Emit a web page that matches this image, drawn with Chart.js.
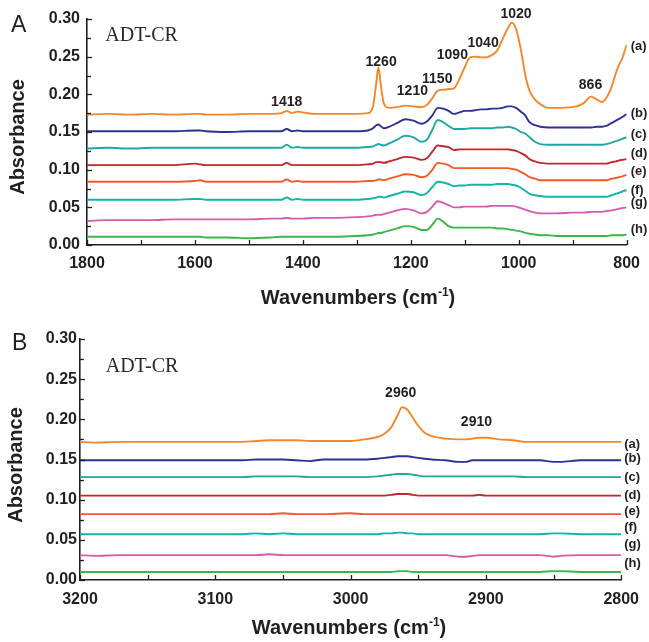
<!DOCTYPE html>
<html>
<head>
<meta charset="utf-8">
<script src="https://cdn.jsdelivr.net/npm/chart.js@4.4.1/dist/chart.umd.min.js"></script>
<style>
  html, body { margin: 0; padding: 0; background: #fff; }
  #wrap { position: relative; width: 649px; height: 642px; overflow: hidden; }
  #cA { position: absolute; left: 0; top: 0; }
  #cB { position: absolute; left: 0; top: 320px; }
</style>
</head>
<body>
<div id="wrap">
  <canvas id="cA" width="649" height="320"></canvas>
  <canvas id="cB" width="649" height="322"></canvas>
</div>
<script>
// ---------- DATA: panel A (1800-800 cm-1) ----------
const wnA = [1800,1760,1720,1680,1640,1600,1590,1580,1540,1500,
             1460,1440,1430,1420,1410,1400,1380,1340,1300,1280,
             1270,1264,1260,1256,1250,1240,1225,1210,1195,1180,
             1170,1160,1150,1140,1130,1120,1110,1100,1090,1080,
             1070,1060,1050,1040,1030,1020,1013,1005,996,988,
             980,970,960,945,930,900,880,866,855,846,
             838,828,820,815,808,800];
const A_a = [.173,.174,.173,.174,.173,.174,.174,.173,.173,.174,
             .174,.175,.178,.175,.177,.176,.174,.174,.174,.175,
             .184,.215,.236,.215,.188,.182,.183,.185,.184,.183,
             .186,.195,.205,.206,.207,.208,.220,.236,.249,.250,
             .249,.249,.252,.258,.273,.288,.295,.287,.259,.226,
             .205,.193,.187,.182,.182,.183,.188,.197,.193,.190,
             .195,.210,.228,.238,.248,.266];
const A_b = [.151,.151,.151,.151,.151,.152,.152,.151,.150,.151,
             .151,.151,.154,.151,.152,.151,.151,.151,.151,.152,
             .155,.159,.160,.158,.155,.157,.162,.167,.165,.161,
             .164,.172,.182,.181,.178,.174,.176,.178,.178,.179,
             .180,.180,.181,.181,.182,.184,.184,.182,.177,.172,
             .163,.159,.157,.156,.156,.156,.156,.156,.157,.157,
             .158,.162,.165,.167,.170,.174];
const A_c = [.128,.129,.128,.129,.129,.129,.129,.129,.129,.129,
             .129,.129,.133,.129,.130,.129,.129,.129,.129,.130,
             .131,.133,.134,.133,.132,.135,.140,.145,.143,.137,
             .140,.153,.166,.163,.158,.154,.154,.154,.155,.155,
             .155,.155,.155,.156,.156,.157,.156,.154,.150,.148,
             .143,.137,.134,.133,.133,.133,.133,.133,.133,.133,
             .134,.136,.138,.139,.141,.143];
const A_d = [.106,.106,.106,.106,.106,.108,.107,.106,.106,.106,
             .106,.106,.109,.106,.106,.106,.106,.106,.106,.107,
             .108,.110,.110,.110,.109,.111,.114,.117,.116,.113,
             .115,.124,.132,.131,.130,.126,.127,.127,.127,.127,
             .127,.127,.127,.127,.127,.127,.126,.125,.122,.119,
             .114,.111,.109,.108,.108,.108,.108,.108,.108,.108,
             .108,.110,.111,.112,.113,.114];
const A_e = [.084,.084,.084,.084,.084,.085,.086,.084,.084,.084,
             .084,.084,.087,.084,.085,.084,.084,.084,.084,.085,
             .085,.086,.087,.087,.086,.088,.091,.094,.093,.090,
             .092,.100,.109,.108,.106,.102,.102,.102,.102,.102,
             .102,.102,.102,.102,.102,.102,.101,.100,.097,.094,
             .090,.088,.086,.086,.086,.086,.086,.086,.086,.086,
             .086,.088,.089,.090,.091,.093];
const A_f = [.060,.060,.060,.060,.060,.061,.061,.060,.060,.060,
             .060,.060,.063,.060,.061,.060,.060,.060,.060,.061,
             .062,.063,.064,.064,.063,.065,.068,.071,.070,.066,
             .069,.077,.084,.083,.081,.078,.079,.079,.080,.080,
             .080,.080,.080,.081,.081,.081,.080,.079,.076,.072,
             .068,.066,.065,.064,.064,.064,.064,.064,.064,.064,
             .064,.066,.068,.069,.071,.073];
const A_g = [.032,.033,.033,.033,.034,.034,.034,.034,.034,.034,
             .035,.035,.036,.035,.035,.035,.036,.036,.037,.038,
             .039,.040,.040,.040,.041,.043,.046,.048,.046,.042,
             .044,.051,.058,.056,.053,.050,.050,.051,.051,.051,
             .051,.051,.052,.052,.052,.052,.052,.051,.049,.047,
             .045,.043,.042,.042,.042,.043,.043,.044,.044,.044,
             .045,.046,.047,.048,.049,.050];
const A_h = [.011,.011,.011,.011,.011,.011,.011,.010,.010,.009,
             .010,.011,.011,.011,.011,.011,.011,.011,.012,.013,
             .014,.015,.016,.016,.017,.019,.022,.025,.024,.020,
             .020,.027,.035,.031,.025,.023,.023,.023,.023,.023,
             .023,.023,.023,.022,.022,.021,.020,.019,.018,.016,
             .015,.014,.013,.013,.012,.012,.012,.012,.012,.012,
             .012,.013,.013,.013,.013,.014];

// ---------- DATA: panel B (3200-2800 cm-1) ----------
const wnB = [3200,3190,3170,3140,3110,3080,3070,3060,3050,3040,
             3030,3020,3000,2990,2980,2975,2970,2965,2962,2958,
             2954,2950,2945,2940,2930,2920,2915,2910,2905,2900,
             2890,2880,2870,2860,2850,2845,2830,2815,2800];
const B_a = [.172,.171,.172,.172,.172,.172,.173,.174,.174,.174,
             .173,.173,.173,.175,.178,.182,.190,.206,.215,.212,
             .202,.192,.183,.179,.176,.175,.175,.176,.177,.177,
             .175,.174,.172,.172,.172,.172,.172,.172,.172];
const B_b = [.149,.149,.149,.149,.149,.149,.150,.150,.150,.149,
             .148,.150,.150,.150,.151,.152,.153,.154,.154,.154,
             .153,.152,.151,.150,.149,.147,.147,.149,.149,.149,
             .149,.149,.149,.149,.147,.147,.149,.149,.149];
const B_c = [.128,.128,.128,.128,.128,.128,.129,.129,.129,.129,
             .128,.128,.128,.128,.129,.130,.131,.132,.132,.132,
             .131,.130,.129,.129,.129,.129,.129,.129,.129,.129,
             .129,.129,.128,.128,.128,.128,.128,.128,.128];
const B_d = [.105,.105,.105,.105,.105,.105,.105,.105,.105,.105,
             .105,.105,.105,.105,.105,.105,.106,.107,.107,.107,
             .106,.105,.105,.105,.105,.105,.105,.105,.106,.105,
             .105,.105,.105,.105,.105,.105,.105,.105,.105];
const B_e = [.082,.082,.082,.082,.082,.082,.082,.082,.083,.082,
             .082,.082,.083,.082,.082,.082,.082,.082,.082,.082,
             .082,.082,.082,.082,.082,.082,.082,.082,.082,.082,
             .082,.082,.082,.082,.082,.082,.082,.082,.082];
const B_f = [.057,.057,.057,.057,.057,.057,.058,.057,.058,.057,
             .057,.057,.057,.057,.057,.058,.058,.059,.059,.058,
             .058,.057,.057,.057,.057,.057,.057,.057,.057,.057,
             .057,.057,.057,.057,.058,.058,.057,.057,.057];
const B_g = [.031,.030,.031,.031,.031,.031,.031,.032,.031,.031,
             .031,.031,.031,.031,.031,.031,.031,.031,.031,.031,
             .031,.031,.031,.031,.031,.029,.029,.030,.031,.031,
             .031,.031,.031,.031,.029,.030,.031,.031,.031];
const B_h = [.010,.010,.010,.010,.010,.010,.010,.010,.010,.010,
             .010,.010,.010,.010,.010,.010,.010,.011,.011,.011,
             .010,.010,.010,.010,.010,.010,.010,.010,.010,.010,
             .010,.010,.010,.010,.011,.011,.010,.010,.010];

const seriesNames = ['(a)','(b)','(c)','(d)','(e)','(f)','(g)','(h)'];
const yTickLabels = ['0.00','0.05','0.10','0.15','0.20','0.25','0.30'];

// peak annotations [label, wavenumber, absorbance]
const peaksA = [['1418',1430,0.190],['1260',1255,0.243],['1210',1197,0.2045],['1150',1151,0.220],
                ['1090',1123,0.252],['1040',1066,0.268],['1020',1005,0.307],['866',867,0.2125]];
const peaksB = [['2960',2963,0.233],['2910',2907,0.1967]];
// series tag levels (absorbance where each (a)..(h) tag sits)
const tagYA = [0.264,0.174,0.147,0.121,0.098,0.072,0.057,0.021];
const tagYB = [0.169,0.151,0.128,0.105,0.085,0.065,0.044,0.021];

// ---------- STYLE ----------
const COLORS = ['#f7862a','#2e3192','#1fa8a3','#c1272d','#f15a2b','#12b3aa','#d35cac','#3cb54a'];
const AXIS = '#231f20';
const SANS = '"Liberation Sans", Arial, sans-serif';
const SERIF = '"Liberation Serif", "Times New Roman", serif';

function toPoints(xs, ys) { return xs.map((x, i) => ({x: x, y: ys[i]})); }

function makeDatasets(xs, list) {
  return list.map((ys, i) => ({
    label: seriesNames[i],
    data: toPoints(xs, ys),
    borderColor: COLORS[i],
    borderWidth: 1.9,
    pointRadius: 0,
    fill: false,
    tension: 0,
    cubicInterpolationMode: 'monotone'
  }));
}

function decorPlugin(cfg) {
  return {
    id: 'decor' + cfg.letter,
    afterDraw(chart) {
      const ctx = chart.ctx, xs = chart.scales.x, ys = chart.scales.y, ca = chart.chartArea;
      ctx.save();
      // inward tick marks
      ctx.strokeStyle = AXIS; ctx.lineWidth = 1.3;
      xs.ticks.forEach(t => {
        const px = Math.round(xs.getPixelForValue(t.value)) + 0.5;
        ctx.beginPath(); ctx.moveTo(px, ca.bottom); ctx.lineTo(px, ca.bottom - 5); ctx.stroke();
      });
      ys.ticks.forEach(t => {
        const py = Math.round(ys.getPixelForValue(t.value)) + 0.5;
        const major = Math.round(t.value * 1000) % 50 === 0;
        ctx.beginPath(); ctx.moveTo(ca.left, py); ctx.lineTo(ca.left + (major ? 5 : 4), py); ctx.stroke();
      });
      // peak labels
      ctx.fillStyle = '#231f20';
      ctx.font = 'bold 14px ' + SANS;
      ctx.textAlign = 'center'; ctx.textBaseline = 'middle';
      cfg.peaks.forEach(p => ctx.fillText(p[0], xs.getPixelForValue(p[1]), ys.getPixelForValue(p[2])));
      // series tags
      ctx.font = 'bold 13px ' + SANS;
      ctx.textAlign = 'left';
      cfg.tags.forEach((v, i) => ctx.fillText(seriesNames[i], ca.right + cfg.tagGap, ys.getPixelForValue(v)));
      // y-axis title
      ctx.save();
      ctx.translate(cfg.yTitle[0], cfg.yTitle[1]);
      ctx.rotate(-Math.PI / 2);
      ctx.font = 'bold 20px ' + SANS;
      ctx.textAlign = 'center';
      ctx.fillText('Absorbance', 0, 0);
      ctx.restore();
      // sample name
      ctx.font = '20px ' + SERIF;
      ctx.fillStyle = '#2b2b2b';
      ctx.textAlign = 'left';
      ctx.textBaseline = 'alphabetic';
      ctx.fillText('ADT-CR', xs.getPixelForValue(cfg.name[0]), ys.getPixelForValue(cfg.name[1]));
      // panel letter
      ctx.fillStyle = '#231f20';
      ctx.font = '23px ' + SANS;
      ctx.fillText(cfg.letter, cfg.letterPos[0], cfg.letterPos[1]);
      // x-axis title with superscript
      const main = 'Wavenumbers (cm', sup = '-1', close = ')';
      ctx.font = 'bold 20px ' + SANS;
      const w1 = ctx.measureText(main).width, w3 = ctx.measureText(close).width;
      ctx.font = 'bold 12px ' + SANS;
      const w2 = ctx.measureText(sup).width;
      const total = w1 + w2 + w3;
      const x0 = cfg.titleCx - total / 2;
      const by = ca.bottom + cfg.titleDy;
      ctx.font = 'bold 20px ' + SANS;
      ctx.fillText(main, x0, by);
      ctx.font = 'bold 12px ' + SANS;
      ctx.fillText(sup, x0 + w1, by - 8);
      ctx.font = 'bold 20px ' + SANS;
      ctx.fillText(close, x0 + w1 + w2, by);
      ctx.restore();
    }
  };
}

function makeChart(canvasId, opts) {
  return new Chart(document.getElementById(canvasId), {
    type: 'line',
    data: { datasets: makeDatasets(opts.xs, opts.series) },
    options: {
      responsive: false,
      animation: false,
      devicePixelRatio: 1,
      layout: { padding: { left: 0, top: 19, right: opts.padRight, bottom: 0 } },
      plugins: { legend: { display: false }, tooltip: { enabled: false } },
      scales: {
        x: {
          type: 'linear', reverse: true, min: opts.xMin, max: opts.xMax,
          grid: { display: true, drawOnChartArea: false, drawTicks: false },
          border: { display: true, color: AXIS, width: 1.6 },
          ticks: {
            stepSize: opts.xStep, autoSkip: false, maxRotation: 0, padding: opts.xPad,
            color: AXIS, font: { family: SANS, size: 16, weight: 'bold' },
            callback: v => (Math.round(v) % opts.xLabelEvery === 0 ? String(Math.round(v)) : '')
          },
          afterFit: s => { s.height = opts.xHeight; }
        },
        y: {
          min: 0, max: 0.30,
          grid: { display: true, drawOnChartArea: false, drawTicks: false },
          border: { display: true, color: AXIS, width: 1.6 },
          ticks: {
            stepSize: 0.025, autoSkip: false, padding: opts.yPad,
            color: AXIS, font: { family: SANS, size: 16, weight: 'bold' },
            callback: v => {
              const k = Math.round(v * 1000);
              return k % 50 === 0 ? yTickLabels[k / 50] : '';
            }
          },
          title: { display: false },
          afterFit: s => { s.width = opts.yWidth; }
        }
      }
    },
    plugins: [decorPlugin(opts.decor)]
  });
}

makeChart('cA', {
  xs: wnA, series: [A_a, A_b, A_c, A_d, A_e, A_f, A_g, A_h],
  xMin: 800, xMax: 1800, xStep: 100, xLabelEvery: 200,
  padRight: 21, xHeight: 75, yWidth: 87, xPad: 9, yPad: 7,
  decor: { letter: 'A', letterPos: [11, 32], peaks: peaksA, tags: tagYA, tagGap: 4,
           name: [1766, 0.271], titleCx: 358, titleDy: 59, yTitle: [18, 137] }
});

makeChart('cB', {
  xs: wnB, series: [B_a, B_b, B_c, B_d, B_e, B_f, B_g, B_h],
  xMin: 2800, xMax: 3200, xStep: 50, xLabelEvery: 100,
  padRight: 18, xHeight: 62, yWidth: 80, xPad: 10, yPad: 3,
  decor: { letter: 'B', letterPos: [12, 30], peaks: peaksB, tags: tagYB, tagGap: 3,
           name: [3181, 0.259], titleCx: 349, titleDy: 54, yTitle: [16, 145] }
});
</script>
</body>
</html>
